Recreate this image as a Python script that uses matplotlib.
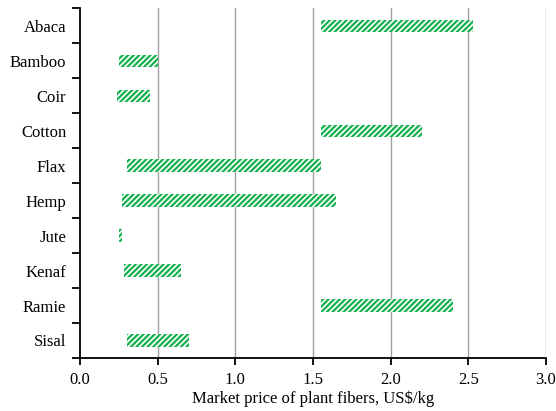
import numpy as np
import matplotlib.pyplot as plt

plt.rcParams['font.family'] = ['Liberation Serif', 'DejaVu Serif']
plt.rcParams['hatch.linewidth'] = 1.6

fibers = ['Abaca', 'Bamboo', 'Coir', 'Cotton', 'Flax', 'Hemp', 'Jute', 'Kenaf', 'Ramie', 'Sisal']
price_min = [1.55, 0.25, 0.24, 1.55, 0.30, 0.27, 0.25, 0.28, 1.55, 0.30]
price_max = [2.53, 0.50, 0.45, 2.20, 1.55, 1.65, 0.27, 0.65, 2.40, 0.70]

green = '#13b04e'

fig = plt.figure(figsize=(5.56, 4.11), dpi=100)
ax = fig.add_axes([0.144, 0.129, 0.838, 0.851])

y = np.arange(len(fibers))
widths = np.array(price_max) - np.array(price_min)
ax.barh(y, widths, left=price_min, height=0.35, color='white',
        edgecolor=green, hatch='//////', linewidth=0, zorder=3)

ax.set_xlim(0, 3.0)
ax.set_ylim(len(fibers) - 0.5, -0.5)
ax.set_xticks(np.arange(0, 3.01, 0.5))
ax.set_xticklabels(['%.1f' % v for v in np.arange(0, 3.01, 0.5)])
for v in np.arange(0.5, 3.01, 0.5):
    ax.axvline(v, color='#a0a0a0', lw=1.0, zorder=1)

# boundaries get the tick marks, names sit at the centers
ax.set_yticks(np.arange(-0.5, len(fibers), 1.0))
ax.set_yticklabels([])
ax.set_yticks(y, minor=True)
ax.set_yticklabels(fibers, minor=True)
ax.tick_params(axis='y', which='minor', length=0, pad=10, labelsize=12)
ax.tick_params(axis='y', which='major', direction='out', length=6, width=1.3)
ax.tick_params(axis='x', direction='out', length=5, width=1.3, labelsize=12, pad=5)

for s in ['top', 'right']:
    ax.spines[s].set_visible(False)
for s in ['left', 'bottom']:
    ax.spines[s].set_linewidth(1.3)

ax.set_xlabel('Market price of plant fibers, US\\$/kg', fontsize=12, labelpad=2)

plt.savefig('out.png', dpi=100)
